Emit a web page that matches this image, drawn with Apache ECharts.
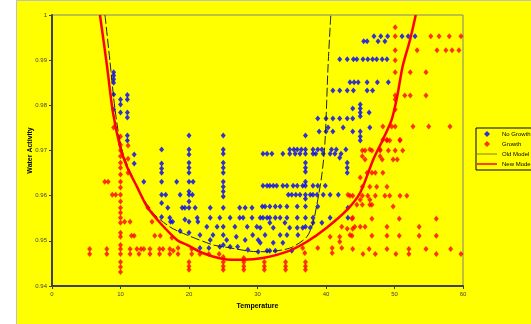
<!DOCTYPE html>
<html>
<head>
<meta charset="utf-8">
<script src="https://cdn.jsdelivr.net/npm/echarts@6/dist/echarts.min.js"></script>
<style>
  html, body { margin: 0; padding: 0; background: #fff; }
  #bg { position: absolute; left: 16px; top: 0; width: 515px; height: 324px; background: #ffff00;
        border-left: 1px solid #c0c0c0; border-top: 1px solid #c0c0c0; box-sizing: border-box; }
  #chart { position: absolute; left: 0; top: 0; width: 531px; height: 324px; }
</style>
</head>
<body>
<div id="bg"></div>
<div id="chart"></div>
<script>
// [temperature, water activity]
const noGrowth = [
  [9.0,0.9873],[9.0,0.9866],[9.0,0.9858],[9.0,0.985],[9.0,0.9824],[9.0,0.9791],
  [10.0,0.9813],[10.0,0.9802],[10.0,0.9784],
  [11.0,0.9823],[11.0,0.9813],[11.0,0.9784],[11.0,0.9773],[11.0,0.9733],[11.0,0.9722],
  [12.0,0.9691],[12.0,0.9671],[13.4,0.9631],
  [16.0,0.9702],[16.0,0.9671],[16.0,0.966],[16.0,0.9651],[16.0,0.9631],[16.0,0.9602],[16.0,0.9584],[16.0,0.9553],
  [16.6,0.9602],[16.9,0.9573],[17.3,0.9542],[17.6,0.9542],[17.2,0.9551],
  [20.0,0.9733],[20.0,0.9702],[20.0,0.9691],[20.0,0.9673],[20.0,0.9662],[20.0,0.9651],[20.0,0.9631],
  [20.0,0.9609],[20.0,0.9602],[20.0,0.9587],[20.0,0.9573],[20.0,0.9542],[20.0,0.9518],
  [18.2,0.9631],[20.6,0.9631],[18.7,0.9602],[20.5,0.9602],[19.0,0.9573],[19.4,0.9573],[20.9,0.9573],
  [19.4,0.9547],[21.3,0.9542],[18.7,0.9522],
  [25.0,0.9733],[25.0,0.9702],[25.0,0.9693],[25.0,0.9673],[25.0,0.9662],[25.0,0.9651],[25.0,0.9631],
  [25.0,0.962],[25.0,0.9609],[25.0,0.9598],[25.0,0.9573],[25.0,0.9531],[25.0,0.9513],[25.0,0.9491],
  [23.1,0.9551],[24.5,0.9551],[26.0,0.9551],[27.4,0.9551],[27.9,0.9551],[29.2,0.9551],[21.2,0.9551],
  [23.1,0.9573],[27.4,0.9573],[28.2,0.9573],[29.2,0.9573],
  [22.6,0.9531],[24.1,0.9531],[26.7,0.9531],[28.5,0.9531],[29.9,0.9531],
  [21.6,0.9513],[23.5,0.9513],[26.9,0.9509],[29.3,0.9513],
  [23.1,0.9502],[25.5,0.9502],[28.2,0.9502],[30.1,0.9502],
  [21.6,0.9484],[22.9,0.9484],[24.5,0.9487],[26.0,0.9487],[27.1,0.9487],[28.6,0.948],[30.1,0.9476],
  [34.7,0.9702],[35.3,0.9702],[35.8,0.9702],[36.4,0.9702],[38.1,0.9702],[38.8,0.9702],[39.4,0.9702],
  [40.8,0.9702],[41.5,0.9702],[42.9,0.9702],
  [30.8,0.9693],[31.4,0.9693],[32.1,0.9693],[33.7,0.9693],[34.7,0.9693],[35.5,0.9693],[36.2,0.9693],
  [38.1,0.9693],[38.5,0.9693],[39.6,0.9693],[40.6,0.9693],[41.3,0.9693],[42.2,0.9693],
  [42.0,0.9684],[43.1,0.9673],[43.1,0.9662],[43.1,0.9651],
  [37.0,0.9733],[37.0,0.9702],[37.0,0.9693],[37.0,0.9673],[37.0,0.9662],[37.0,0.9653],[37.0,0.9631],
  [37.0,0.9622],[37.0,0.9602],[37.0,0.9593],[37.0,0.9576],[37.0,0.9551],[37.0,0.9531],
  [30.8,0.9622],[31.4,0.9622],[31.8,0.9622],[32.3,0.9622],[32.8,0.9622],[33.7,0.9622],[34.3,0.9622],
  [35.2,0.9622],[35.8,0.9622],[36.6,0.9622],[38.1,0.9622],[38.8,0.9622],[39.9,0.9622],
  [34.5,0.9602],[35.0,0.9602],[35.6,0.9602],[36.2,0.9602],[37.7,0.9602],[38.1,0.9602],[38.7,0.9602],
  [39.6,0.9602],[40.6,0.9602],[41.8,0.9602],
  [30.7,0.9576],[31.1,0.9576],[31.8,0.9576],[32.6,0.9576],[33.3,0.9576],[34.3,0.9576],[35.8,0.9576],
  [38.8,0.9576],[43.2,0.9573],
  [30.4,0.9551],[30.8,0.9551],[31.4,0.9551],[31.8,0.9551],[32.6,0.9551],[33.3,0.9551],[34.3,0.9551],
  [35.8,0.9551],[38.1,0.9551],[40.6,0.9551],[43.2,0.9551],
  [31.8,0.954],[34.0,0.954],[38.1,0.954],[39.4,0.954],
  [30.4,0.9529],[32.3,0.9529],[34.7,0.9529],[35.8,0.9529],[36.6,0.9529],[37.7,0.9529],
  [31.1,0.9513],[33.3,0.9513],[34.3,0.9513],[35.9,0.9513],
  [30.4,0.9496],[32.3,0.9496],[33.7,0.9496],
  [31.4,0.9478],[31.8,0.9478],[32.6,0.9478],[35.0,0.9478],
  [39.0,0.9742],[40.0,0.9742],[41.0,0.9742],[43.9,0.9742],[45.0,0.9742],
  [40.3,0.9751],[42.5,0.9751],[46.4,0.9751],[45.0,0.9731],[45.0,0.9722],
  [38.8,0.9771],[40.0,0.9771],[41.0,0.9771],[42.0,0.9771],[43.1,0.9771],[43.9,0.9771],
  [45.0,0.9802],[43.9,0.9793],[45.0,0.9793],[45.0,0.9784],[46.3,0.9784],[45.0,0.9776],
  [41.0,0.9833],[42.0,0.9833],[43.1,0.9833],[44.0,0.9833],[46.0,0.9833],[46.8,0.9833],
  [43.5,0.9851],[44.1,0.9851],[44.7,0.9851],[46.0,0.9851],[47.5,0.9851],[49.1,0.9851],
  [42.0,0.9902],[43.1,0.9902],[44.0,0.9902],[44.5,0.9902],[45.4,0.9902],[46.1,0.9902],[46.8,0.9902],
  [47.4,0.9902],[48.2,0.9902],[48.9,0.9902],
  [45.5,0.9942],[46.0,0.9942],[47.6,0.9942],[48.6,0.9942],
  [47.0,0.9953],[48.0,0.9953],[49.0,0.9953],[51.1,0.9953],[52.0,0.9953],[53.0,0.9953]
];

const growth = [
  [5.5,0.9482],[5.5,0.9471],[7.7,0.9631],[8.2,0.9631],[8.0,0.9482],[8.0,0.9471],
  [9.0,0.9751],[8.8,0.9602],[9.3,0.9602],
  [10.0,0.9731],[10.0,0.9713],[10.0,0.97],[10.0,0.9687],[10.0,0.9673],[10.0,0.9662],[10.0,0.9647],
  [10.0,0.9631],[10.0,0.9618],[10.0,0.9602],[10.0,0.9587],[10.0,0.9573],[10.0,0.9562],[10.0,0.9551],
  [10.0,0.954],[10.0,0.9518],[10.0,0.9509],[10.0,0.9491],[10.0,0.9482],[10.0,0.9471],[10.0,0.9453],
  [10.0,0.9442],[10.0,0.9431],
  [11.1,0.9711],[11.1,0.9682],[11.1,0.9651],[10.6,0.9542],[11.4,0.9542],[11.6,0.9511],[12.0,0.9511],
  [11.4,0.9482],[12.4,0.9482],[13.0,0.9482],[13.4,0.9482],[14.3,0.9482],[15.7,0.9482],[16.2,0.9482],
  [17.2,0.9482],[17.7,0.9478],[18.4,0.9484],[20.4,0.9482],
  [11.4,0.9471],[12.7,0.9471],[14.3,0.9471],[15.7,0.9471],[17.2,0.9471],[18.4,0.9471],[20.4,0.9471],
  [21.6,0.9471],[22.9,0.9471],[24.4,0.9471],
  [14.0,0.9573],[14.6,0.9542],[15.0,0.9511],[15.8,0.9511],[17.5,0.9507],
  [20.0,0.9453],[20.0,0.9444],[20.0,0.9436],[25.0,0.9453],[25.0,0.9444],[25.0,0.9436],
  [28.0,0.9453],[28.0,0.9444],[28.0,0.9436],[31.0,0.9453],[31.0,0.9444],[31.0,0.9436],
  [34.1,0.9453],[34.1,0.9444],[34.1,0.9436],[37.0,0.9453],[37.0,0.9444],[37.0,0.9436],
  [25.0,0.9464],[28.0,0.9462],
  [36.6,0.9484],[38.8,0.9484],[40.9,0.9484],[42.3,0.9484],[36.9,0.9473],[40.9,0.9473],
  [40.6,0.9509],[42.0,0.9509],[42.3,0.9531],[43.5,0.9513],[43.2,0.9602],[43.9,0.9551],
  [43.1,0.9527],[43.9,0.9527],[42.0,0.9498],
  [48.3,0.9753],[49.6,0.9753],[50.1,0.9753],[52.7,0.9753],[55.0,0.9753],[58.1,0.9753],
  [48.9,0.9722],[49.3,0.9722],[50.8,0.9722],
  [45.3,0.97],[45.7,0.97],[46.7,0.97],[47.9,0.97],[49.1,0.97],[50.1,0.97],[51.2,0.97],
  [45.3,0.9687],[47.9,0.9687],[45.7,0.968],[48.2,0.968],[49.8,0.968],[50.4,0.968],
  [46.0,0.9651],[46.7,0.9651],[47.2,0.9651],[48.3,0.9651],[45.0,0.964],
  [45.3,0.962],[46.4,0.962],[47.4,0.962],[48.9,0.962],
  [43.5,0.96],[43.9,0.96],[45.3,0.96],[46.1,0.96],[47.2,0.96],[48.6,0.96],[49.3,0.96],[50.8,0.96],[51.8,0.96],
  [45.0,0.9591],[46.4,0.9591],[44.5,0.958],[45.3,0.958],[46.4,0.958],[46.7,0.958],[49.8,0.9576],
  [43.8,0.9549],[46.7,0.9549],[50.7,0.9549],[56.1,0.9549],
  [44.2,0.9531],[45.0,0.9531],[45.7,0.9531],[48.9,0.9531],[53.6,0.9531],
  [43.8,0.9511],[46.7,0.9511],[48.9,0.9511],[50.7,0.9511],[53.6,0.9511],[56.1,0.9511],
  [43.9,0.9482],[46.3,0.9482],[48.9,0.9482],[52.1,0.9482],[54.6,0.9482],[58.2,0.9482],
  [45.4,0.9471],[47.2,0.9471],[50.2,0.9471],[52.1,0.9471],[56.1,0.9471],[59.7,0.9471],
  [50.1,0.9973],
  [50.1,0.9953],[55.3,0.9953],[56.5,0.9953],[58.0,0.9953],[59.7,0.9953],
  [50.1,0.9922],[53.3,0.9922],[56.2,0.9922],[57.5,0.9922],[58.4,0.9922],[59.4,0.9922],
  [50.1,0.99],[50.1,0.9873],[52.3,0.9873],[54.6,0.9873],
  [50.1,0.9822],[51.5,0.9822],[52.3,0.9822],[54.6,0.9822],[50.1,0.9813],[50.1,0.9791],
  [48.3,0.9724],[48.9,0.9724],[50.8,0.9724],[46.4,0.9702],[47.9,0.9702]
];

const oldModel = [
  [7.74,1.0],[8.47,0.9896],[9.2,0.9791],[10.07,0.9709],[11.1,0.9664],[12.85,0.9607],[14.74,0.9562],
  [17.2,0.9531],[19.7,0.9513],[23.5,0.9491],[25.0,0.9487],[30.0,0.9476],[31.4,0.9476],[33.7,0.948],
  [35.2,0.9487],[37.2,0.9509],[38.1,0.954],[38.8,0.9591],[39.4,0.9647],[39.85,0.9718],[40.3,0.9887],[40.7,1.0]
];

const newModel = [
  [7.0,1.0],[8.03,0.9887],[8.9,0.9784],[9.93,0.9709],[10.95,0.9664],[12.4,0.962],[13.87,0.9576],
  [15.77,0.954],[18.25,0.9502],[19.7,0.9491],[22.0,0.9473],[25.0,0.946],[27.9,0.9458],[30.8,0.9462],
  [34.3,0.9476],[37.2,0.9498],[40.1,0.9529],[43.1,0.9569],[45.0,0.9607],[46.9,0.968],[48.3,0.9724],
  [49.6,0.9769],[50.4,0.982],[51.2,0.9887],[52.3,0.9947],[53.1,1.0]
];

const font = 'Arial, "Liberation Sans", sans-serif';
const diamondIcon = 'path://M0,-1L1,0L0,1L-1,0Z';
const thinLineIcon = 'path://M0,0L40,0L40,1L0,1Z';
const thickLineIcon = 'path://M0,0L40,0L40,3L0,3Z';

const chart = echarts.init(document.getElementById('chart'));

const axisCommon = {
  type: 'value',
  nameLocation: 'middle',
  nameMoveOverlap: false,
  nameTextStyle: { fontFamily: font, fontSize: 7, fontWeight: 'bold', color: '#000' },
  axisLine: { lineStyle: { color: '#404040', width: 2 } },
  axisTick: { length: 3, lineStyle: { color: '#404040' } },
  axisLabel: { fontFamily: font, fontSize: 6, color: '#404040', margin: 5 },
  splitLine: { show: false }
};

chart.setOption({
  animation: false,
  backgroundColor: 'transparent',
  grid: { left: 52, right: 68, top: 15, bottom: 38, show: true, borderColor: '#808080', borderWidth: 1 },
  legend: {
    orient: 'vertical',
    left: 476,
    top: 128,
    padding: [3, 3, 3, 1],
    itemGap: 4,
    itemWidth: 20,
    itemHeight: 6,
    borderColor: '#000',
    borderWidth: 1,
    backgroundColor: '#ffff00',
    textStyle: { fontFamily: font, fontSize: 6, color: '#000' },
    data: [
      { name: 'No Growth', icon: diamondIcon, itemStyle: { color: '#0000ff' } },
      { name: 'Growth', icon: diamondIcon, itemStyle: { color: '#ff0000' } },
      { name: 'Old Model', icon: thinLineIcon, itemStyle: { color: '#000' } },
      { name: 'New Model', icon: thickLineIcon, itemStyle: { color: '#ff0000' } }
    ]
  },
  xAxis: Object.assign({}, axisCommon, {
    min: 0, max: 60, interval: 10,
    name: 'Temperature', nameGap: 17
  }),
  yAxis: Object.assign({}, axisCommon, {
    min: 0.94, max: 1, interval: 0.01,
    name: 'Water Activity', nameGap: 18
  }),
  series: [
    { name: 'No Growth', type: 'scatter', data: noGrowth, symbol: 'diamond', symbolSize: [5, 6],
      itemStyle: { color: '#0000ff' }, z: 2 },
    { name: 'Growth', type: 'scatter', data: growth, symbol: 'diamond', symbolSize: [5, 6],
      itemStyle: { color: '#ff0000' }, z: 3 },
    { name: 'Old Model', type: 'line', data: oldModel, smooth: 0.3, symbol: 'none',
      lineStyle: { color: '#202020', width: 1, type: [9, 3] }, z: 4 },
    { name: 'New Model', type: 'line', data: newModel, smooth: 0.3, symbol: 'none',
      lineStyle: { color: '#ff0000', width: 2.5 }, z: 5 }
  ]
});
</script>
</body>
</html>
